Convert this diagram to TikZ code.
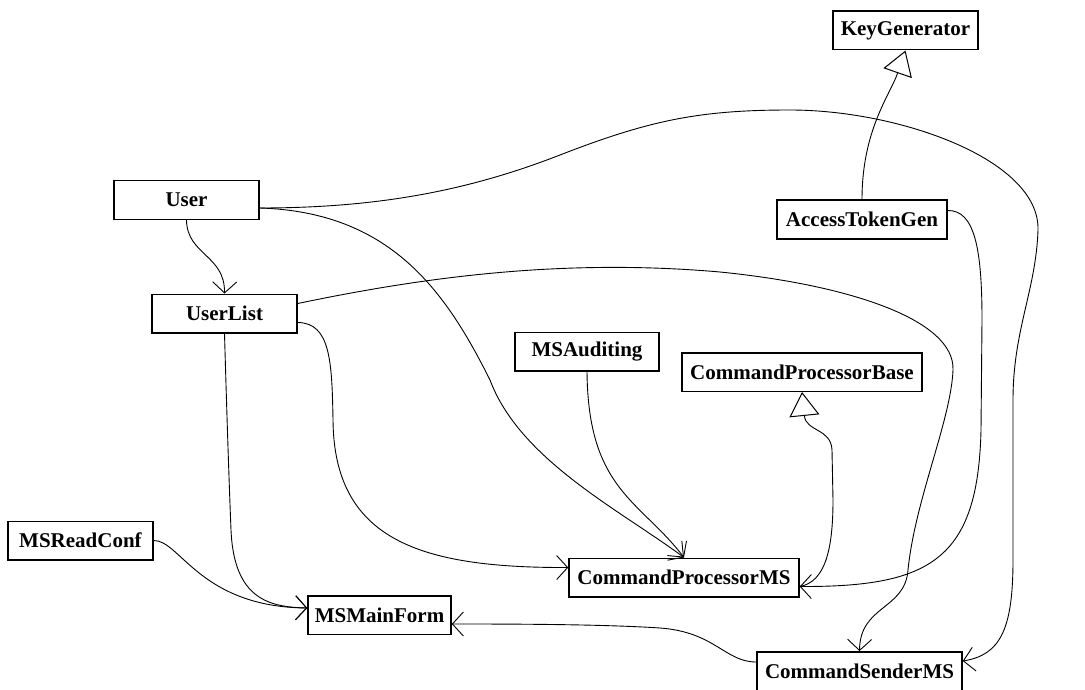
\documentclass[tikz,border=0pt]{standalone}
\usepackage{fontspec}
\setmainfont{Liberation Serif}
\usetikzlibrary{arrows.meta,calc}
\begin{document}
\begin{tikzpicture}[x=1pt,y=-1pt,
  box/.style={draw, line width=1.5pt, inner sep=0pt, minimum height=38.5pt,
    font=\fontsize{21}{25}\selectfont\bfseries, fill=white},
  dep/.style={line width=0.9pt, -{Straight Barb[length=11pt,width=24pt,line width=0.9pt]}},
  inh/.style={line width=0.9pt, -{Triangle[open,length=24pt,width=30pt,line width=1pt,fill=white]}}]
\useasboundingbox (0,0) rectangle (1085,690);
\fill[white] (0,0) rectangle (1085,690);

\node[box, minimum width=145pt] (KG)   at (905.5,30.5) {KeyGenerator};
\node[box, minimum width=170pt] (ATG)  at (862,219.5)  {AccessTokenGen};
\node[box, minimum width=145pt] (User) at (186.5,200)  {User};
\node[box, minimum width=145pt] (UL)   at (224.5,313.5) {UserList};
\node[box, minimum width=144pt] (MSA)  at (587,351.5)  {MSAuditing};
\node[box, minimum width=240pt] (CPB)  at (802,372)    {CommandProcessorBase};
\node[box, minimum width=230pt] (CPMS) at (684,577.5)  {CommandProcessorMS};
\node[box, minimum width=143pt] (MSMF) at (379.5,615)  {MSMainForm};
\node[box, minimum width=145pt] (MSRC) at (80.5,540.5) {MSReadConf};
\node[box, minimum width=205pt] (CSM)  at (859.5,671)  {CommandSenderMS};

% AccessTokenGen -> KeyGenerator (inheritance)
\draw[inh] (ATG.north) .. controls (862,130) and (890,95) .. (KG.south);
% User -> UserList
\draw[dep] (User.south) .. controls (187,255) and (225,255) .. (UL.north);
% User -> CommandSenderMS
\draw[dep] ([yshift=-8pt]User.east) .. controls (380,208) and (470,190) .. (560,155)
  .. controls (650,120) and (700,110) .. (790,110)
  .. controls (900,110) and (1040,160) .. (1038,230)
  .. controls (1036,290) and (1013,330) .. (1013,400) -- (1013,560)
  .. controls (1013,630) and (1000,655) .. ([yshift=10pt]CSM.east);
% User -> CommandProcessorMS
\draw[dep] ([yshift=-8pt]User.east) .. controls (390,212) and (445,290) .. (490,380)
  .. controls (520,460) and (620,510) .. (CPMS.north);
% UserList -> CommandSenderMS
\draw[dep] ([yshift=10pt]UL.east) .. controls (420,278) and (560,258) .. (720,272)
  .. controls (850,285) and (955,320) .. (953,370)
  .. controls (951,420) and (915,500) .. (908,570)
  .. controls (905,610) and (860,605) .. (CSM.north);
% UserList -> CommandProcessorMS
\draw[dep] ([yshift=-9pt]UL.east) .. controls (330,323) and (332,360) .. (333,420)
  .. controls (334,540) and (420,568) .. ([yshift=10pt]CPMS.west);
% UserList -> MSMainForm
\draw[dep] (UL.south) .. controls (227,420) and (229,480) .. (231,530)
  .. controls (234,600) and (270,607) .. ([yshift=7pt]MSMF.west);
% MSReadConf -> MSMainForm
\draw[dep] (MSRC.east) .. controls (180,540) and (200,607) .. ([yshift=7pt]MSMF.west);
% MSAuditing -> CommandProcessorMS
\draw[dep] (MSA.south) .. controls (588,490) and (640,500) .. (CPMS.north);
% CommandProcessorMS -> CommandProcessorBase (inheritance)
\draw[inh] ([yshift=-9pt]CPMS.east) .. controls (825,582) and (833,550) .. (833,500) -- (832,450)
  .. controls (831,428) and (806,432) .. (CPB.south);
% AccessTokenGen -> CommandProcessorMS
\draw[dep] ([yshift=9pt]ATG.east) .. controls (975,210) and (982,250) .. (982,320) -- (981,430)
  .. controls (978,560) and (930,587) .. ([yshift=-9pt]CPMS.east);
% CommandSenderMS -> MSMainForm
\draw[dep] ([yshift=9pt]CSM.west) .. controls (725,662) and (715,632) .. (660,628)
  .. controls (600,624) and (500,624) .. ([yshift=-9pt]MSMF.east);
\end{tikzpicture}
\end{document}
